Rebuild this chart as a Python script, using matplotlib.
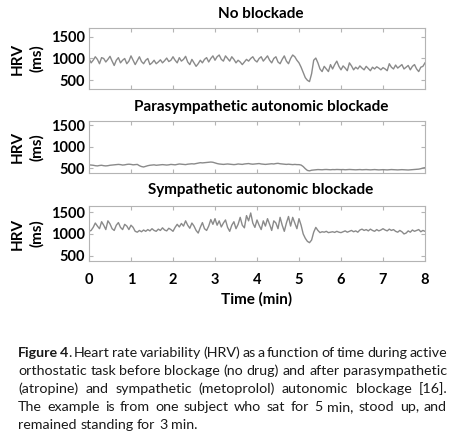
import numpy as np
import matplotlib
matplotlib.use("Agg")
import matplotlib.pyplot as plt

plt.rcParams['font.family'] = ['Lato', 'DejaVu Sans']

# HRV (ms), one sample every 0.05 min
no_blockade = [
    1000, 900, 960, 1040, 980, 880, 1020, 1000, 920, 980, 1050, 940, 840, 960, 1020, 900, 960, 1000, 880, 940,
    1060, 960, 860, 950, 1040, 930, 880, 960, 1000, 860, 900, 960, 880, 920, 970, 900, 950, 1010, 930, 960,
    1040, 960, 900, 1020, 940, 980, 1050, 920, 860, 980, 900, 820, 880, 960, 900, 980, 1020, 920, 1000, 1060,
    960, 1040, 1080, 980, 940, 1060, 1000, 940, 1040, 980, 900, 960, 920, 860, 920, 980, 940, 1000, 1040, 960,
    920, 1000, 1040, 940, 1000, 1060, 960, 900, 1000, 1040, 920, 880, 980, 1060, 940, 880, 1000, 1080, 1040, 960,
    900, 800, 680, 560, 500, 470, 650, 960, 1010, 900, 760, 700, 820, 760, 700, 860, 760, 860, 940, 820,
    740, 830, 780, 720, 900, 830, 740, 800, 760, 830, 780, 740, 820, 770, 720, 800, 760, 810, 780, 740,
    790, 760, 720, 880, 800, 760, 850, 780, 820, 860, 760, 800, 840, 740, 820, 860, 760, 700, 800, 820,
    900,
]
parasympathetic = [
    580, 575, 570, 560, 555, 565, 570, 560, 555, 560, 570, 575, 580, 585, 590, 585, 575, 580, 590, 595,
    590, 580, 585, 590, 560, 540, 530, 545, 560, 570, 575, 580, 570, 575, 580, 585, 580, 575, 580, 590,
    585, 580, 590, 600, 595, 590, 585, 595, 600, 605, 600, 610, 620, 630, 625, 630, 635, 640, 645, 640,
    625, 610, 600, 595, 590, 595, 600, 595, 590, 585, 590, 600, 595, 590, 600, 605, 610, 600, 595, 600,
    605, 610, 600, 595, 590, 595, 600, 605, 600, 610, 615, 605, 600, 595, 590, 595, 590, 585, 590, 585,
    585, 575, 540, 490, 450, 440, 455, 460, 465, 470, 468, 465, 470, 472, 468, 465, 470, 468, 472, 470,
    468, 470, 465, 468, 472, 470, 466, 464, 468, 470, 465, 468, 470, 466, 463, 467, 470, 465, 462, 466,
    468, 465, 462, 466, 470, 468, 464, 462, 465, 468, 466, 462, 460, 464, 467, 470, 475, 480, 490, 505,
    515,
]
sympathetic = [
    1060, 1080, 1150, 1250, 1180, 1120, 1280, 1200, 1100, 1300, 1230, 1120, 1080, 1200, 1260, 1150, 1100, 1220, 1180, 1100,
    1200, 1150, 1060, 1040, 1080, 1050, 1090, 1060, 1100, 1070, 1120, 1080, 1060, 1110, 1080, 1140, 1090, 1070, 1130, 1100,
    1060, 1150, 1220, 1160, 1240, 1180, 1300, 1200, 1130, 1250, 1180, 1080, 1020, 1150, 1260, 1120, 1080, 1180, 1330, 1220,
    1350, 1200, 1300, 1160, 1250, 1320, 1150, 1060, 1200, 1280, 1120, 1220, 1380, 1200, 1140, 1420, 1300, 1480, 1250, 1150,
    1320, 1200, 1100, 1300, 1180, 1350, 1220, 1080, 1300, 1250, 1120, 1380, 1200, 1060, 1250, 1400, 1180, 1380, 1250, 1120,
    1350, 1200, 1000, 900, 830, 800, 860, 1040, 1150, 1080, 1030, 1050, 1040, 1060, 1030, 1040, 1050, 1035, 1060, 1040,
    1030, 1050, 1070, 1040, 1060, 1080, 1050, 1070, 1040, 1090, 1110, 1080, 1100, 1070, 1110, 1080, 1060, 1100, 1070, 1090,
    1120, 1090, 1070, 1110, 1080, 1100, 1060, 1040, 1080, 1050, 1000, 1020, 1070, 1040, 1090, 1060, 1080, 1100, 1050, 1080,
    1060,
]
titles = ["No blockade", "Parasympathetic autonomic blockade", "Sympathetic autonomic blockade"]
series = [no_blockade, parasympathetic, sympathetic]
yticks = [500, 1000, 1500]
xticks = [0, 1, 2, 3, 4, 5, 6, 7, 8]

caption_lines = [
    [("Figure", "bold"), ("4", "bold"), (".", "normal", True), ("Heart", "normal"), ("rate", "normal"),
     ("variability", "normal"), ("(HRV)", "normal"), ("as", "normal"), ("a", "normal"), ("function", "normal"),
     ("of", "normal"), ("time", "normal"), ("during", "normal"), ("active", "normal")],
    "orthostatic task before blockage (no drug) and after parasympathetic",
    "(atropine) and sympathetic (metoprolol) autonomic blockage [16].",
    "The example is from one subject who sat for 5 min, stood up, and",
    "remained standing for 3 min.",
]

W, H = 456, 443
fig = plt.figure(figsize=(W / 100, H / 100), dpi=100)

# axes boxes in pixels: (top, bottom), ylim
boxes = [((28, 89), (300, 1700)), ((121, 173), (390, 1600)), ((206, 261), (380, 1640))]
left_px, right_px = 89, 425
title_y = [14, 107, 190]
gray = "#b4b4b4"

for k, (vals, ((top, bot), ylim)) in enumerate(zip(series, boxes)):
    ax = fig.add_axes([left_px / W, 1 - bot / H, (right_px - left_px) / W, (bot - top) / H])
    t = np.arange(len(vals)) * 0.05
    ax.plot(t, vals, color="#8a8a8a", lw=1.0)
    ax.set_xlim(0, 8)
    ax.set_ylim(*ylim)
    ax.set_yticks(yticks)
    ax.set_xticks(xticks)
    ax.tick_params(direction="in", length=3, color=gray, top=True, right=True,
                   labelsize=10.5, pad=3)
    for lab in ax.get_yticklabels() + ax.get_xticklabels():
        lab.set_fontweight("bold")
    if k < 2:
        ax.set_xticklabels([])
    else:
        ax.tick_params(axis="x", pad=9)
        ax.set_xlabel("Time (min)", fontsize=11, fontweight="bold", labelpad=3)
    for s in ax.spines.values():
        s.set_color(gray)
    ax.set_ylabel("HRV\n(ms)", fontsize=11, fontweight="bold", linespacing=1.35)
    ax.yaxis.set_label_coords(-0.135, 0.5)
    fig.text(261 / W, 1 - title_y[k] / H, titles[k], ha="center", va="center",
             fontsize=11, fontweight="bold")

# justified caption
cap_left, cap_right = 18, 447
cap_base = [357, 375, 393, 411, 429]
cap_size = 10.3
renderer = fig.canvas.get_renderer()
probe2 = fig.text(0, 0, "a a", fontsize=cap_size)
probe1 = fig.text(0, 0, "aa", fontsize=cap_size)
space_w = probe2.get_window_extent(renderer).width - probe1.get_window_extent(renderer).width
probe2.remove()
probe1.remove()
for i, line in enumerate(caption_lines):
    if isinstance(line, str):
        tokens = [(w, "normal") for w in line.split()]
    else:
        tokens = line
    texts, widths, attach = [], [], []
    for tok in tokens:
        tx = fig.text(0, 1 - cap_base[i] / H, tok[0], fontsize=cap_size, fontweight=tok[1],
                      va="baseline", ha="left", color="#1a1a1a")
        texts.append(tx)
        widths.append(tx.get_window_extent(renderer).width)
        attach.append(len(tok) > 2 and tok[2])
    n_gaps = sum(1 for a in attach[1:] if not a)
    if i < len(caption_lines) - 1:
        gap = max((cap_right - cap_left - sum(widths)) / n_gaps, space_w * 0.6)
    else:
        gap = space_w
    x = cap_left
    for j, tx in enumerate(texts):
        if j > 0 and not attach[j]:
            x += gap
        tx.set_x(x / W)
        x += widths[j]

fig.savefig("out.png", dpi=100)
